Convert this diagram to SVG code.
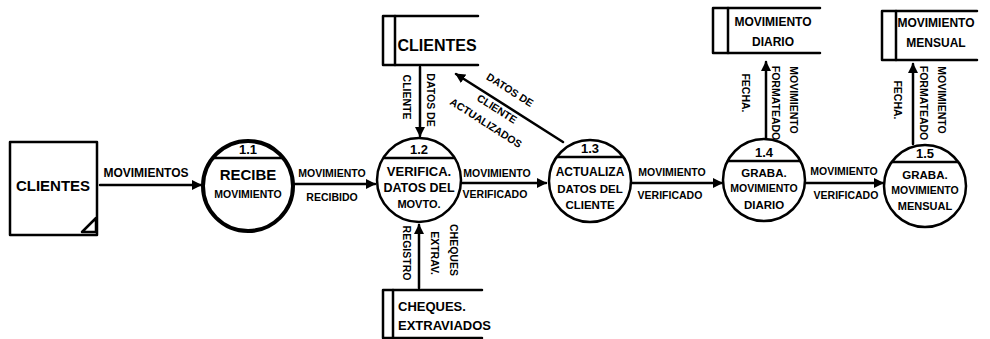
<svg xmlns="http://www.w3.org/2000/svg" width="990" height="339" viewBox="0 0 990 339">
<style>
.s{fill:none;stroke:#000;stroke-width:2.5;stroke-linecap:round;stroke-linejoin:round}
.p{fill:#fff;stroke:#000;stroke-width:2.5}
.pb{fill:#fff;stroke:#000;stroke-width:4}
.t{font-family:"Liberation Sans",Arial,sans-serif;font-weight:bold;fill:#000;text-anchor:middle}
.l{font-size:10.5px}
.n{font-size:13px}
.st{font-size:13px;text-anchor:start}
</style>
<defs>
<marker id="ah" viewBox="0 0 10 10" refX="9" refY="5" markerWidth="4" markerHeight="4" orient="auto-start-reverse" markerUnits="strokeWidth">
<path d="M0,0 L10,5 L0,10 z" fill="#000"/>
</marker>
</defs>
<rect width="990" height="339" fill="#fff"/>

<g id="connectors">
<line class="s" x1="100" y1="185" x2="201" y2="185" marker-end="url(#ah)"/>
<text class="t" style="font-size:12px" x="146" y="177">MOVIMIENTOS</text>

<line class="s" x1="294" y1="184" x2="375" y2="184" marker-end="url(#ah)"/>
<text class="t l" x="332" y="177">MOVIMIENTO</text>
<text class="t l" x="332" y="201">RECIBIDO</text>

<line class="s" x1="420" y1="67" x2="420" y2="136" marker-end="url(#ah)"/>
<text class="t l" transform="translate(427,100) rotate(90)">DATOS DE</text>
<text class="t l" transform="translate(403,97) rotate(90)">CLIENTE</text>

<line class="s" x1="563" y1="142" x2="456" y2="74" marker-end="url(#ah)"/>
<text class="t l" transform="translate(508,93) rotate(32.6)">DATOS DE</text>
<text class="t l" transform="translate(495,112) rotate(32.6)">CLIENTE</text>
<text class="t l" transform="translate(484,126) rotate(32.6)">ACTUALIZADOS</text>

<line class="s" x1="461" y1="183" x2="546" y2="183" marker-end="url(#ah)"/>
<text class="t l" x="497" y="177">MOVIMIENTO</text>
<text class="t l" x="495" y="198">VERIFICADO</text>

<line class="s" x1="419" y1="288" x2="419" y2="225" marker-end="url(#ah)"/>
<text class="t l" transform="translate(403,253) rotate(90)">REGISTRO</text>
<text class="t l" transform="translate(431,253) rotate(90)">EXTRAV.</text>
<text class="t l" transform="translate(450,250) rotate(90)">CHEQUES</text>

<line class="s" x1="631" y1="183" x2="722" y2="183" marker-end="url(#ah)"/>
<text class="t l" x="672" y="176">MOVIMIENTO</text>
<text class="t l" x="670" y="199">VERIFICADO</text>

<line class="s" x1="766" y1="139" x2="766" y2="62" marker-end="url(#ah)"/>
<text class="t l" transform="translate(742,93) rotate(90)">FECHA.</text>
<text class="t l" transform="translate(772,103) rotate(90)">FORMATEADO</text>
<text class="t l" transform="translate(790,100) rotate(90)">MOVIMIENTO</text>

<line class="s" x1="805" y1="183" x2="883" y2="183" marker-end="url(#ah)"/>
<text class="t l" x="844" y="175">MOVIMIENTO</text>
<text class="t l" x="846" y="199">VERIFICADO</text>

<line class="s" x1="913" y1="144" x2="913" y2="64" marker-end="url(#ah)"/>
<text class="t l" transform="translate(894,100) rotate(90)">FECHA.</text>
<text class="t l" transform="translate(920,103) rotate(90)">FORMATEADO</text>
<text class="t l" transform="translate(938,100) rotate(90)">MOVIMIENTO</text>
</g>

<g id="ext-clientes">
<rect class="s" x="10" y="142" width="87" height="93"/>
<polygon class="s" points="82,232 96,218 96,232"/>
<text class="t" style="font-size:15px" x="53" y="191">CLIENTES</text>
</g>

<g id="p1-1">
<circle class="pb" cx="248" cy="186" r="45"/>
<line class="s" x1="213" y1="158" x2="283" y2="158"/>
<text class="t n" x="248" y="154">1.1</text>
<text class="t" style="font-size:15px" x="248" y="180">RECIBE</text>
<text class="t" style="font-size:10.5px" x="248" y="198">MOVIMIENTO</text>
</g>

<g id="p1-2">
<circle class="p" cx="419" cy="180" r="42"/>
<line class="s" x1="384" y1="158" x2="454" y2="158"/>
<text class="t n" x="419" y="154">1.2</text>
<text class="t" style="font-size:13px" x="419" y="176">VERIFICA.</text>
<text class="t" style="font-size:12.5px" x="419" y="192">DATOS DEL</text>
<text class="t" style="font-size:11px" x="419" y="208">MOVTO.</text>
</g>

<g id="p1-3">
<circle class="p" cx="590" cy="181" r="41"/>
<line class="s" x1="557" y1="157" x2="623" y2="157"/>
<text class="t n" x="590" y="153">1.3</text>
<text class="t" style="font-size:12px" x="590" y="176">ACTUALIZA</text>
<text class="t" style="font-size:11.5px" x="590" y="193">DATOS DEL</text>
<text class="t" style="font-size:11.5px" x="590" y="209">CLIENTE</text>
</g>

<g id="p1-4">
<circle class="p" cx="764" cy="180" r="41"/>
<line class="s" x1="728" y1="161" x2="800" y2="161"/>
<text class="t n" x="764" y="157">1.4</text>
<text class="t" style="font-size:11.5px" x="764" y="177">GRABA.</text>
<text class="t" style="font-size:10.5px" x="764" y="192">MOVIMIENTO</text>
<text class="t" style="font-size:11.5px" x="764" y="209">DIARIO</text>
</g>

<g id="p1-5">
<circle class="p" cx="925" cy="186" r="41"/>
<line class="s" x1="892" y1="162" x2="958" y2="162"/>
<text class="t n" x="925" y="158">1.5</text>
<text class="t" style="font-size:11.5px" x="925" y="179">GRABA.</text>
<text class="t" style="font-size:10.5px" x="925" y="194">MOVIMIENTO</text>
<text class="t" style="font-size:11px" x="925" y="210">MENSUAL</text>
</g>

<g id="ds-clientes">
<path class="s" d="M478,16 H383 V65 H478"/>
<line class="s" x1="395" y1="16" x2="395" y2="65"/>
<text class="t" style="font-size:16px" x="437" y="51">CLIENTES</text>
</g>

<g id="ds-cheques">
<path class="s" d="M482,290 H383 V338 H482"/>
<line class="s" x1="393" y1="290" x2="393" y2="338"/>
<text class="t st" x="398" y="311">CHEQUES.</text>
<text class="t st" x="398" y="330">EXTRAVIADOS</text>
</g>

<g id="ds-diario">
<path class="s" d="M820,8 H713 V53 H820"/>
<line class="s" x1="728" y1="8" x2="728" y2="53"/>
<text class="t" style="font-size:12px" x="773" y="26">MOVIMIENTO</text>
<text class="t" style="font-size:12px" x="773" y="46">DIARIO</text>
</g>

<g id="ds-mensual">
<path class="s" d="M977,11 H882 V60 H977"/>
<line class="s" x1="896" y1="11" x2="896" y2="60"/>
<text class="t" style="font-size:12px" x="936" y="27">MOVIMIENTO</text>
<text class="t" style="font-size:12px" x="936" y="47">MENSUAL</text>
</g>
</svg>
